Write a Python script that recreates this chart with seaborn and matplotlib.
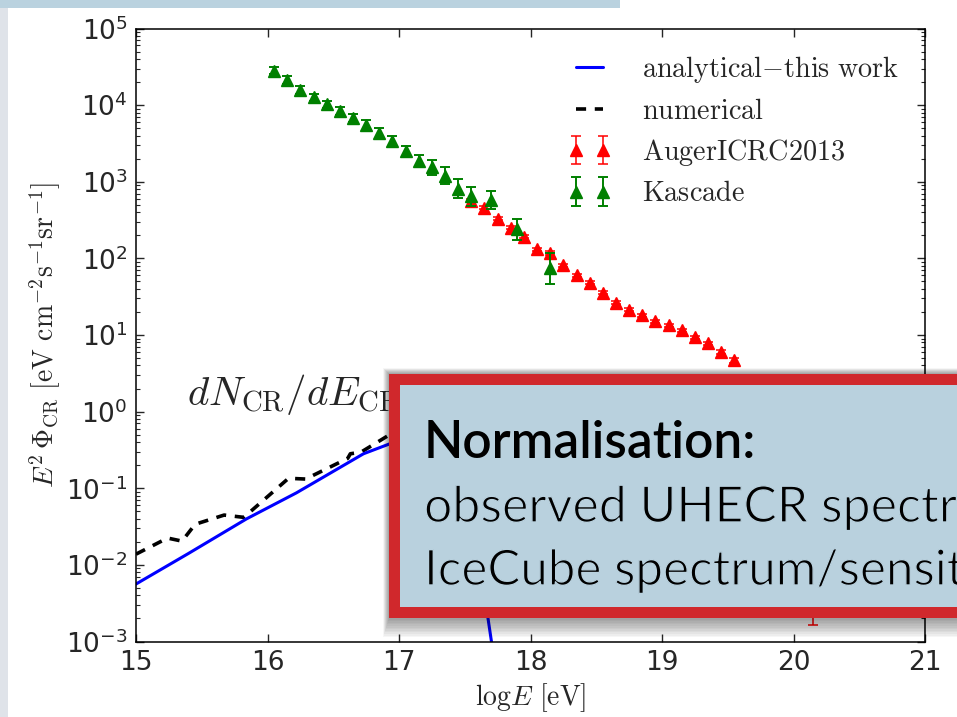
import matplotlib
matplotlib.use("Agg")
import matplotlib.pyplot as plt
import matplotlib.patheffects as pe
import numpy as np
import pandas as pd
import seaborn as sns
from matplotlib.patches import Rectangle
from matplotlib.font_manager import FontProperties

# ---- data (log10 E [eV], log10 E^2 Phi) ----
kascade_loge = [16.05, 16.15, 16.25, 16.35, 16.45, 16.55, 16.65, 16.75, 16.85, 16.95,
                17.05, 17.15, 17.25, 17.35, 17.45, 17.55, 17.70, 17.90, 18.15]
kascade_logf = [4.45, 4.33, 4.20, 4.10, 4.01, 3.92, 3.83, 3.74, 3.63, 3.53,
                3.40, 3.27, 3.19, 3.08, 2.91, 2.81, 2.76, 2.38, 1.87]
kascade_err = [0.05, 0.05, 0.05, 0.05, 0.05, 0.05, 0.055, 0.06, 0.065, 0.065,
               0.07, 0.08, 0.10, 0.11, 0.12, 0.12, 0.12, 0.14, 0.20]

auger_loge = [17.55, 17.65, 17.75, 17.85, 17.95, 18.05, 18.15, 18.25, 18.35, 18.45,
              18.55, 18.65, 18.75, 18.85, 18.95, 19.05, 19.15, 19.25, 19.35, 19.45,
              19.55, 19.65, 19.75, 19.85, 19.95, 20.05, 20.15]
auger_logf = [2.75, 2.66, 2.52, 2.40, 2.28, 2.12, 2.07, 1.91, 1.78, 1.68,
              1.55, 1.42, 1.33, 1.26, 1.18, 1.13, 1.06, 0.97, 0.89, 0.78,
              0.67, 0.40, 0.25, 0.05, -0.15, -0.40, -0.80]
auger_err_lo = [0.02, 0.02, 0.02, 0.02, 0.02, 0.02, 0.02, 0.02, 0.02, 0.02,
                0.02, 0.02, 0.02, 0.02, 0.02, 0.02, 0.02, 0.02, 0.025, 0.03,
                0.035, 0.05, 0.07, 0.10, 0.15, 0.30, 1.99]
auger_err_hi = [0.02, 0.02, 0.02, 0.02, 0.02, 0.02, 0.02, 0.02, 0.02, 0.02,
                0.02, 0.02, 0.02, 0.02, 0.02, 0.02, 0.02, 0.02, 0.025, 0.03,
                0.035, 0.05, 0.07, 0.09, 0.12, 0.20, 0.30]

analytic_loge = [15.00, 15.40, 15.84, 16.22, 16.50, 16.73, 16.93, 17.10, 17.25,
                 17.40, 17.52, 17.62, 17.677, 17.703, 17.72]
analytic_logf = [-2.25, -1.85, -1.40, -1.06, -0.78, -0.55, -0.42, -0.35, -0.33,
                 -0.40, -0.70, -1.60, -2.70, -3.00, -4.00]

numeric_loge = [15.00, 15.24, 15.35, 15.45, 15.67, 15.82, 16.16, 16.29, 16.61,
                16.63, 16.71, 16.93, 17.10, 17.30, 17.45]
numeric_logf = [-1.86, -1.65, -1.69, -1.47, -1.35, -1.38, -0.87, -0.88, -0.61,
                -0.55, -0.53, -0.30, -0.22, -0.30, -0.60]

legend_labels = [r'$\mathrm{analytical}{-}\mathrm{this\ work}$', r'$\mathrm{numerical}$',
                 r'$\mathrm{AugerICRC2013}$', r'$\mathrm{Kascade}$']
box_lines = ['Normalisation:', 'observed UHECR spectrum', 'IceCube spectrum/sensitivity']

W, H = 957, 717
BOX_BLUE = '#b9d1de'


def fpx(x, y):
    # pixel position (from top-left) -> figure fraction
    return x / W, 1 - y / H


sns.set_style("ticks")
plt.rcParams.update({
    'xtick.direction': 'in', 'ytick.direction': 'in',
    'xtick.top': True, 'ytick.right': True,
    'xtick.major.size': 6, 'ytick.major.size': 6,
    'ytick.minor.size': 3, 'axes.linewidth': 1.1,
    'axes.unicode_minus': False,
})
plt.rcParams['font.family'] = ['DejaVu Sans']

fig = plt.figure(figsize=(W / 100, H / 100), dpi=100)
fig.patch.set_facecolor('white')
ax = fig.add_axes([136 / W, 1 - 641.5 / H, (925 - 136) / W, (641.5 - 28.5) / H])

ana = pd.DataFrame({'loge': analytic_loge, 'flux': np.power(10.0, analytic_logf)})
num = pd.DataFrame({'loge': numeric_loge, 'flux': np.power(10.0, numeric_logf)})

sns.lineplot(data=num, x='loge', y='flux', ax=ax, color='black', linewidth=2.6,
             estimator=None, sort=False)
dash_line = ax.lines[-1]
dash_line.set_dashes((2.8, 2.4))
sns.lineplot(data=ana, x='loge', y='flux', ax=ax, color='blue', linewidth=2.2,
             estimator=None, sort=False)
blue_line = ax.lines[-1]

a_y = np.power(10.0, auger_logf)
a_lo = a_y - np.power(10.0, np.array(auger_logf) - np.array(auger_err_lo))
a_hi = np.power(10.0, np.array(auger_logf) + np.array(auger_err_hi)) - a_y
auger = ax.errorbar(auger_loge, a_y, yerr=[a_lo, a_hi], fmt='^', color='red',
                    ms=8.5, capsize=3.5, elinewidth=1.1, capthick=1.1, zorder=3)

k_y = np.power(10.0, kascade_logf)
k_e = np.array(kascade_err)
k_lo = k_y - np.power(10.0, np.array(kascade_logf) - k_e)
k_hi = np.power(10.0, np.array(kascade_logf) + k_e) - k_y
kascade = ax.errorbar(kascade_loge, k_y, yerr=[k_lo, k_hi], fmt='^', color='green',
                      ms=8.5, capsize=3.5, elinewidth=1.4, capthick=1.4, zorder=4)

ax.set_yscale('log')
ax.set_xlim(15, 21)
ax.set_ylim(1e-3, 1e5)
ax.set_xticks([15, 16, 17, 18, 19, 20, 21])
ax.tick_params(axis='both', which='major', labelsize=19, width=1, pad=6)
ax.tick_params(axis='y', which='minor', width=0.8)
ax.minorticks_off()
ax.yaxis.set_minor_locator(matplotlib.ticker.LogLocator(base=10, subs=np.arange(2, 10)))
ax.yaxis.set_minor_formatter(matplotlib.ticker.NullFormatter())
for s in ax.spines.values():
    s.set_color('black')

ax.set_xlabel(r'$\mathrm{log}E\ [\mathrm{eV}]$', fontsize=20, math_fontfamily='cm',
              labelpad=4)
ax.set_ylabel(r'$E^2\,\Phi_{\rm CR}\ [\mathrm{eV\ cm^{-2}s^{-1}sr^{-1}}]$',
              fontsize=20, math_fontfamily='cm', labelpad=2)

ax.text(15.39, 10 ** 0.075, r'$dN_{\rm CR}/dE_{\rm CR}\propto E_{\rm CR}^{-\alpha}$',
        fontsize=29.5, math_fontfamily='cm', va='baseline', ha='left')

leg_prop = FontProperties(size=20.3, math_fontfamily='cm')
ax.legend(handles=[blue_line, dash_line, auger, kascade], labels=legend_labels,
          loc='upper right', frameon=False, numpoints=2, prop=leg_prop,
          handlelength=1.55, handletextpad=1.1, labelspacing=0.42,
          borderaxespad=0.5)

# ---- slide decoration: top bar, left strip, overlay box ----
fig.add_artist(Rectangle(fpx(0, 8), 620 / W, 8 / H, transform=fig.transFigure,
                         facecolor='#bad2df', edgecolor='none', zorder=1))
fig.add_artist(Rectangle(fpx(0, H), 8 / W, (H - 8) / H, transform=fig.transFigure,
                         facecolor='#dfe3e9', edgecolor='none', zorder=1))

box_l, box_t, box_b = 389, 374, 618
for k in range(1, 13):
    fig.add_artist(Rectangle(fpx(box_l - 0.5 * k, box_b + 1.6 * k), 1.0,
                             (box_b + 1.6 * k - box_t + 0.5 * k) / H,
                             transform=fig.transFigure, facecolor='black',
                             edgecolor='none', alpha=0.035, zorder=1.5))
fig.add_artist(Rectangle(fpx(box_l, box_b), 1.0, (box_b - box_t) / H,
                         transform=fig.transFigure, facecolor='#d0282c',
                         edgecolor='none', zorder=2))
fig.add_artist(Rectangle(fpx(box_l + 11, box_b - 11), 1.0, (box_b - box_t - 22) / H,
                         transform=fig.transFigure, facecolor=BOX_BLUE,
                         edgecolor='none', zorder=2.1))

# thinner strokes for the body lines (the slide uses a light face)
thin = [pe.Normal(), pe.Stroke(linewidth=1.0, foreground=BOX_BLUE)]
fig.text(*fpx(424, 458), box_lines[0], fontsize=37, family='Lato',
         weight='semibold', color='black', va='baseline', zorder=3)
fig.text(*fpx(424, 522), box_lines[1], fontsize=36, family='Lato',
         weight='normal', color='black', va='baseline', zorder=3,
         path_effects=thin)
fig.text(*fpx(424, 585), box_lines[2], fontsize=35.5, family='Lato',
         weight='normal', color='black', va='baseline', zorder=3,
         path_effects=thin)

fig.savefig('out.png', dpi=100)
